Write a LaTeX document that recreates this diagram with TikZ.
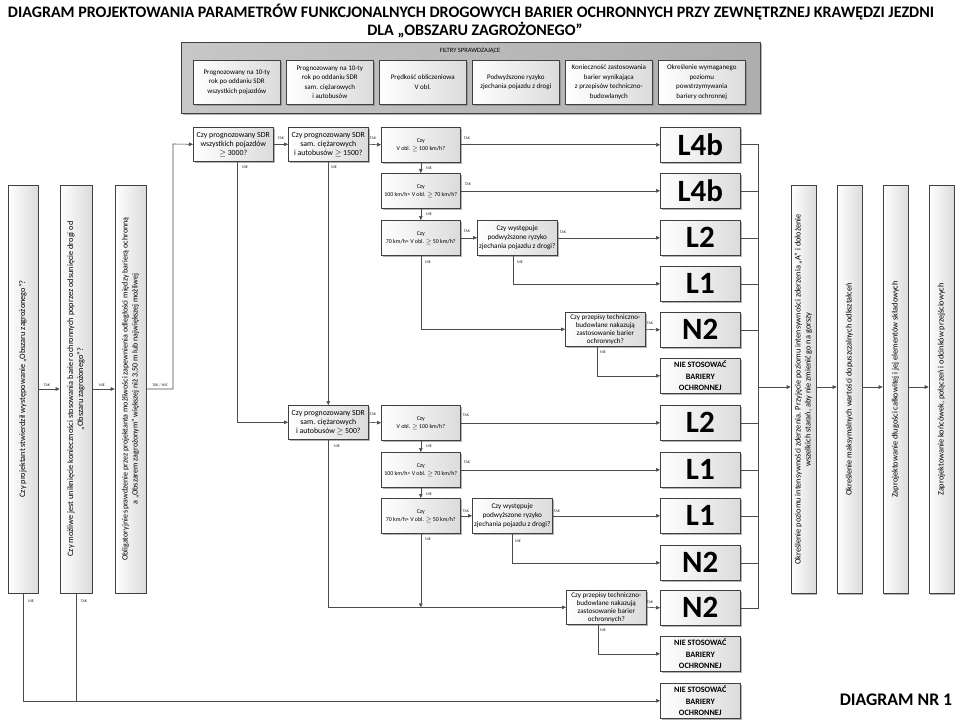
\documentclass[tikz,border=0pt]{standalone}
\usepackage{fontspec}
\setmainfont{Carlito}
\usetikzlibrary{arrows.meta,shadows,calc}
\begin{document}
\begin{tikzpicture}[x=1pt,y=-1pt,
  box/.style={draw=black!75, line width=0.6pt, left color=white, right color=black!14,
    drop shadow={shadow xshift=1.3pt,shadow yshift=-1.3pt,fill=black!50,opacity=0.6},
    inner sep=1pt, align=center},
  hb/.style={box, anchor=north west},
  dec/.style={hb, minimum width=80pt, minimum height=34pt, font=\fontsize{7.8}{9}\selectfont},
  vq/.style={hb, minimum width=79pt, minimum height=35pt, font=\fontsize{5.9}{8}\selectfont},
  rq/.style={hb, minimum width=80pt, minimum height=35pt, font=\fontsize{7.2}{9.2}\selectfont},
  pq/.style={hb, minimum width=80pt, minimum height=34pt, font=\fontsize{7.1}{7.9}\selectfont},
  res/.style={hb, minimum width=80pt, minimum height=35pt, font=\bfseries\fontsize{31}{31}\selectfont},
  nie/.style={hb, minimum width=80pt, minimum height=35pt, inner sep=0.5pt, font=\bfseries\fontsize{8.2}{11.5}\selectfont},
  fil/.style={hb, minimum width=87pt, minimum height=44pt, font=\fontsize{7}{9.6}\selectfont},
  vb/.style={box, rotate=90, minimum width=408pt, font=\fontsize{8.3}{10}\selectfont},
  lab/.style={font=\fontsize{4}{4}\selectfont, inner sep=0pt, text=black!85},
  ln/.style={draw=black!70, line width=0.6pt},
  arr/.style={ln, -{Triangle[length=4pt,width=3.6pt]}},
]
\useasboundingbox (0,0) rectangle (960,722);
\fill[white] (0,0) rectangle (960,722);

% titles
\node[font=\bfseries\fontsize{16}{20}\selectfont] (title1) at (471,12) {DIAGRAM PROJEKTOWANIA PARAMETRÓW FUNKCJONALNYCH DROGOWYCH BARIER OCHRONNYCH PRZY ZEWNĘTRZNEJ KRAWĘDZI JEZDNI};
\node[font=\bfseries\fontsize{16}{20}\selectfont] (title2) at (475,30) {DLA „OBSZARU ZAGROŻONEGO”};
\node[font=\bfseries\fontsize{17.7}{20}\selectfont] (dnr) at (896,700) {DIAGRAM NR 1};

% filter panel
\node[hb, left color=black!22, right color=black!32, minimum width=579pt, minimum height=71pt] (F0) at (181,42) {};
\node[font=\fontsize{6.5}{8}\selectfont] (F0t) at (470,51) {FILTRY SPRAWDZAJĄCE};
\node[fil] (F1) at (193,60) {Prognozowany na 10-ty\\rok po oddaniu SDR\\wszystkich pojazdów};
\node[fil] (F2) at (286,60) {Prognozowany na 10-ty\\rok po oddaniu SDR\\sam. ciężarowych\\i autobusów};
\node[fil] (F3) at (379,60) {Prędkość obliczeniowa\\V obl.};
\node[fil] (F4) at (472,60) {Podwyższone ryzyko\\zjechania pojazdu z drogi};
\node[fil] (F5) at (565,60) {Konieczność zastosowania\\barier wynikająca\\z przepisów techniczno-\\budowlanych};
\node[fil] (F6) at (658,60) {Określenie wymaganego\\poziomu\\powstrzymywania\\bariery ochronnej};

% left vertical boxes
\node[vb, minimum height=30pt] (A) at (23,389) {Czy projektant stwierdził występowanie „Obszaru zagrożonego”?};
\node[vb, minimum height=32pt] (B) at (76,389) {Czy możliwe jest uniknięcie konieczności stosowania barier ochronnych poprzez odsunięcie drogi od\\„Obszaru zagrożonego”?};
\node[vb, minimum height=31pt, font=\fontsize{8}{10}\selectfont] (C) at (130.5,389) {Obligatoryjnie sprawdzenie przez projektanta możliwości zapewnienia odległości między barierą ochronną\\a „Obszarem zagrożonym” większej niż 3,50 m lub największej możliwej};

% right vertical boxes
\node[vb, minimum height=25pt] (E1) at (803.5,389.5) {Określenie poziomu intensywności zderzenia. Przyjęcie poziomu intensywności zderzenia „A” i dołożenie\\wszelkich starań, aby nie zmienić go na gorszy};
\node[vb, minimum height=25pt] (E2) at (849.5,389.5) {Określenie maksymalnych wartości dopuszczalnych odkształceń};
\node[vb, minimum height=25pt] (E3) at (895.5,389.5) {Zaprojektowanie długości całkowitej i jej elementów składowych};
\node[vb, minimum height=25pt] (E4) at (941.5,389.5) {Zaprojektowanie końcówek, połączeń i odcinków przejściowych};

% decision boxes upper
\node[dec] (D1) at (193,127) {Czy prognozowany SDR\\wszystkich pojazdów\\\ensuremath{\geq} 3000?};
\node[dec] (D2) at (288,127) {Czy prognozowany SDR\\sam. ciężarowych\\i autobusów \ensuremath{\geq} 1500?};
\node[vq] (V1) at (381,127) {Czy\\V obl. \ensuremath{\geq} 100 km/h?};
\node[vq] (V2) at (381,173) {Czy\\100 km/h> V obl. \ensuremath{\geq} 70 km/h?};
\node[vq] (V3) at (381,220) {Czy\\70 km/h> V obl. \ensuremath{\geq} 50 km/h?};
\node[rq] (R1) at (477,220) {Czy występuje\\podwyższone ryzyko\\zjechania pojazdu z drogi?};
\node[pq] (P1) at (565,312) {Czy przepisy techniczno-\\budowlane nakazują\\zastosowanie barier\\ochronnych?};

% decision boxes lower
\node[dec] (D3) at (288,405) {Czy prognozowany SDR\\sam. ciężarowych\\i autobusów \ensuremath{\geq} 500?};
\node[vq] (V4) at (381,405) {Czy\\V obl. \ensuremath{\geq} 100 km/h?};
\node[vq] (V5) at (381,452) {Czy\\100 km/h> V obl. \ensuremath{\geq} 70 km/h?};
\node[vq] (V6) at (381,498) {Czy\\70 km/h> V obl. \ensuremath{\geq} 50 km/h?};
\node[rq] (R2) at (472,498) {Czy występuje\\podwyższone ryzyko\\zjechania pojazdu z drogi?};
\node[pq] (P2) at (566,590) {Czy przepisy techniczno-\\budowlane nakazują\\zastosowanie barier\\ochronnych?};

% results
\node[res] (Ra) at (660,127) {L4b};
\node[res] (Rb) at (660,173) {L4b};
\node[res] (Rc) at (660,220) {L2};
\node[res] (Rd) at (660,266) {L1};
\node[res] (Re) at (660,312) {N2};
\node[nie] (Rf) at (660,358) {NIE STOSOWAĆ\\BARIERY\\OCHRONNEJ};
\node[res] (Rg) at (660,405) {L2};
\node[res] (Rh) at (660,452) {L1};
\node[res] (Ri) at (660,498) {L1};
\node[res] (Rj) at (660,545) {N2};
\node[res] (Rk) at (660,590) {N2};
\node[nie] (Rl) at (660,636) {NIE STOSOWAĆ\\BARIERY\\OCHRONNEJ};
\node[nie] (Rm) at (660,683) {NIE STOSOWAĆ\\BARIERY\\OCHRONNEJ};

% left connectors
\draw[arr] (A.south) -- (B.north);
\draw[arr] (B.south) -- (C.north);
\coordinate (cc) at (173,144);
\draw[arr] (C.south) -| (cc) -- (D1.west);
\draw[arr] (A.west) |- (Rm.west);
\draw[ln] (B.west) -- (B.west |- Rm.west);

% upper connectors
\draw[arr] (D1.east) -- (D2.west);
\draw[arr] (D2.east) -- (V1.west);
\draw[arr] (V1.east) -- (Ra.west);
\draw[arr] (V1.south) -- (V2.north);
\draw[arr] (V2.east) -- (Rb.west);
\draw[arr] (V2.south) -- (V3.north);
\draw[arr] (V3.east) -- (R1.west);
\draw[arr] (R1.east) -- (Rc.west);
\draw[arr] ([xshift=-4pt]R1.south) |- (Rd.west);
\draw[arr] (V3.south) |- (P1.west);
\draw[arr] (P1.east) -- (Re.west);
\draw[arr] ([xshift=-8pt]P1.south) |- (Rf.west);
\draw[arr] ([xshift=4pt]D1.south) |- (D3.west);
\draw[arr] (D2.south) -- (D3.north);

% lower connectors
\draw[arr] (D3.east) -- (V4.west);
\draw[arr] (V4.east) -- (Rg.west);
\draw[arr] (V4.south) -- (V5.north);
\draw[arr] (V5.east) -- (Rh.west);
\draw[arr] (V5.south) -- (V6.north);
\draw[arr] (V6.east) -- (R2.west);
\draw[arr] (R2.east) -- (Ri.west);
\draw[arr] (R2.south) |- (Rj.west);
\draw[arr] (V6.south) -- (V6.south |- P2.west);
\draw[arr] (D3.south) |- (P2.west);
\draw[arr] (P2.east) -- (Rk.west);
\draw[arr] ([xshift=-8pt]P2.south) |- (Rl.west);

% bus to right column
\path (Ra.east) ++(18,0) coordinate (bt);
\path (Rk.east) ++(18,0) coordinate (bb);
\coordinate (bm) at (758,387);
\foreach \r in {Ra,Rb,Rc,Rd,Re,Rg,Rh,Ri,Rj,Rk} {\draw[ln] (\r.east) -- (\r.east -| bt);}
\draw[ln] (bt) -- (bb);
\draw[arr] (bm) -- (bm -| E1.north);
\draw[arr] (E1.south |- bm) -- (E2.north |- bm);
\draw[arr] (E2.south |- bm) -- (E3.north |- bm);
\draw[arr] (E3.south |- bm) -- (E4.north |- bm);

% labels
\node[lab] (tA) at (47,385) {TAK};
\node[lab] (tB) at (102,385) {NIE};
\node[lab] (tC) at (160,385) {TAK / NIE};
\node[lab] (tA2) at (31,601) {NIE};
\node[lab] (tB2) at (84,601) {TAK};
\node[lab] (t1) at (281,138) {TAK};
\node[lab] (t2) at (373,138) {TAK};
\node[lab] (t3) at (467,138) {TAK};
\node[lab] (n1) at (245,167) {NIE};
\node[lab] (n2) at (334,167) {NIE};
\node[lab] (n3) at (429,168) {NIE};
\node[lab] (t4) at (468,184) {TAK};
\node[lab] (n4) at (429,214) {NIE};
\node[lab] (t5) at (467,231) {TAK};
\node[lab] (t6) at (563,232) {TAK};
\node[lab] (n5) at (428,262) {NIE};
\node[lab] (n6) at (520,262) {NIE};
\node[lab] (t7) at (650,323) {TAK};
\node[lab] (n7) at (603,352) {NIE};
\node[lab] (t8) at (373,414) {TAK};
\node[lab] (t9) at (466,415) {TAK};
\node[lab] (n8) at (337,446) {NIE};
\node[lab] (n9) at (429,446) {NIE};
\node[lab] (t10) at (467,462) {TAK};
\node[lab] (n10) at (429,494) {NIE};
\node[lab] (t11) at (466,511) {TAK};
\node[lab] (t12) at (557,511) {TAK};
\node[lab] (n11) at (428,539) {NIE};
\node[lab] (n12) at (518,541) {NIE};
\node[lab] (t13) at (650,602) {TAK};
\node[lab] (n13) at (603,630) {NIE};
\end{tikzpicture}
\end{document}
